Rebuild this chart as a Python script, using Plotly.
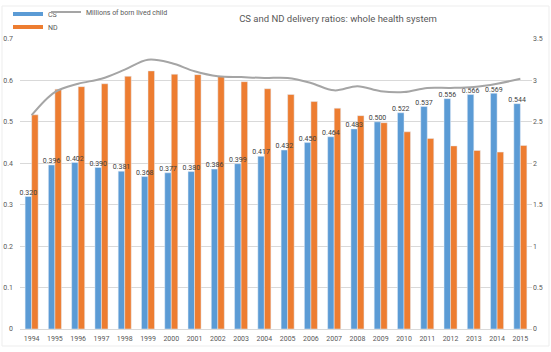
import plotly.graph_objects as go

years = list(range(1994, 2016))
cs = [0.320, 0.396, 0.402, 0.390, 0.381, 0.368, 0.377, 0.380, 0.386, 0.399, 0.417,
      0.432, 0.450, 0.464, 0.483, 0.500, 0.522, 0.537, 0.556, 0.566, 0.569, 0.544]
nd = [0.517, 0.579, 0.585, 0.592, 0.610, 0.623, 0.615, 0.614, 0.610, 0.597, 0.580,
      0.566, 0.549, 0.533, 0.515, 0.498, 0.476, 0.460, 0.442, 0.431, 0.427, 0.443]
births = [2.58, 2.86, 2.96, 3.02, 3.13, 3.25, 3.21, 3.11, 3.05, 3.04, 3.03,
          3.03, 2.97, 2.88, 2.93, 2.87, 2.86, 2.91, 2.91, 2.92, 2.96, 3.02]
left_ticks = [0, 0.1, 0.2, 0.3, 0.4, 0.5, 0.6, 0.7]
right_ticks = [0, 0.5, 1, 1.5, 2, 2.5, 3, 3.5]

BLUE = "#5B9BD5"
ORANGE = "#ED7D31"
GRAY = "#A5A5A5"
TXT = "#595959"
FONT = "Roboto, sans-serif"
H = 352.0
Wpx = 551.0

W = 0.28
fig = go.Figure()
fig.add_trace(go.Bar(x=years, y=cs, name="CS", marker_color=BLUE,
                     width=W, offset=-W, showlegend=False))
fig.add_trace(go.Bar(x=years, y=nd, name="ND", marker_color=ORANGE,
                     width=W, offset=0, showlegend=False))
fig.add_trace(go.Scatter(x=[y - W / 2 for y in years], y=cs, mode="text",
                         text=[f"{v:.3f}" for v in cs], textposition="top center",
                         textfont=dict(size=7, color="#404040", family=FONT),
                         showlegend=False, hoverinfo="skip", cliponaxis=False))
fig.add_trace(go.Scatter(x=years, y=births, name="Millions of born lived child",
                         mode="lines", line=dict(color=GRAY, width=2, shape="spline"),
                         yaxis="y2", legend="legend3"))
# legend entries for the bar series (thick short bars as in the reference)
fig.add_trace(go.Scatter(x=[None], y=[None], mode="lines", name="CS",
                         line=dict(color=BLUE, width=4), legend="legend"))
fig.add_trace(go.Scatter(x=[None], y=[None], mode="lines", name="ND",
                         line=dict(color=ORANGE, width=4), legend="legend2"))

leg_common = dict(xref="container", yref="container", xanchor="left", yanchor="middle",
                  font=dict(size=7, color=TXT, family=FONT), bgcolor="rgba(0,0,0,0)",
                  itemwidth=30)

# faint chart-area border (paper coordinates relative to the plot area)
L, R, T, B = 20.0, 532.0, 39.0, 329.0
def px_x(p):
    return (p - L) / (R - L)
def px_y(p):
    return (B - p) / (B - T)

fig.update_layout(
    width=551, height=352,
    margin=dict(l=20, r=19, t=39, b=23, autoexpand=False),
    paper_bgcolor="white", plot_bgcolor="white",
    font=dict(family=FONT, size=7, color=TXT),
    title=dict(text="CS and ND delivery ratios: whole health system",
               x=338 / Wpx, xanchor="center", xref="container",
               y=1 - 19 / H, yanchor="middle", yref="container",
               font=dict(size=9.5, color=TXT, family=FONT)),
    xaxis=dict(range=[1993.5, 2015.5], tickmode="array", tickvals=years,
               ticktext=[str(y) for y in years], showgrid=False,
               showline=True, linecolor="#D9D9D9", ticks="", tickangle=0,
               ticklabelstandoff=3, tickfont=dict(size=7, color=TXT)),
    yaxis=dict(range=[0, 0.7], tickmode="array", tickvals=left_ticks,
               ticktext=[f"{t:g}" for t in left_ticks],
               showgrid=True, gridcolor="#D9D9D9", zeroline=False,
               tickfont=dict(size=7, color=TXT), ticks="", ticklabelstandoff=6),
    yaxis2=dict(range=[0, 3.5], overlaying="y", side="right", tickmode="array",
                tickvals=right_ticks, ticktext=[f"{t:g}" for t in right_ticks],
                showgrid=False, zeroline=False,
                tickfont=dict(size=7, color=TXT), ticks=""),
    legend=dict(x=8 / Wpx, y=1 - 14 / H, **leg_common),
    legend2=dict(x=8 / Wpx, y=1 - 27 / H, **leg_common),
    legend3=dict(x=46 / Wpx, y=1 - 12 / H, **leg_common),
    shapes=[dict(type="rect", xref="paper", yref="paper",
                 x0=px_x(2), x1=px_x(549), y0=px_y(346), y1=px_y(6),
                 line=dict(color="#EDEDED", width=1), fillcolor="rgba(0,0,0,0)",
                 layer="below")],
)

fig.write_html("out.html")
